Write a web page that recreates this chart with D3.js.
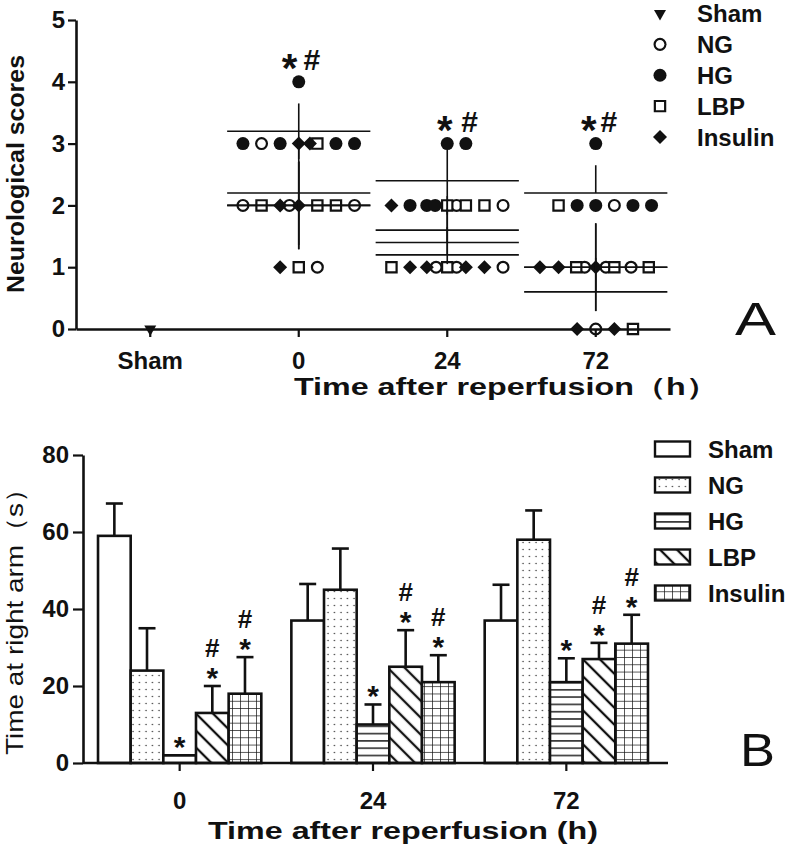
<!DOCTYPE html>
<html>
<head>
<meta charset="utf-8">
<script src="https://cdn.jsdelivr.net/npm/d3@7"></script>
<style>
  body { margin: 0; background: #fff; }
  svg { display: block; }
  text { font-family: "Liberation Sans", Arial, sans-serif; fill: #111; }
</style>
</head>
<body>
<div class="chart"></div>
<script>
// ---------- panel A data ----------
const timesA = ["Sham", "0", "24", "72"];
const legendA = ["Sham", "NG", "HG", "LBP", "Insulin"];

// [group, score, slot] ; slot = horizontal spread position inside a column
const pointsSham = [["Sham", 0, 0]];
const points0 = [
  ["NG", 3, -2], ["NG", 2, -3], ["NG", 2, -0.5], ["NG", 2, 3], ["NG", 1, 1],
  ["HG", 4, 0], ["HG", 3, -3], ["HG", 3, -1], ["HG", 3, 2], ["HG", 3, 3],
  ["LBP", 3, 1], ["LBP", 2, -2], ["LBP", 2, 1], ["LBP", 2, 2], ["LBP", 1, 0],
  ["Insulin", 3, 0], ["Insulin", 3, 0.6], ["Insulin", 2, -1], ["Insulin", 2, 0], ["Insulin", 1, -1]
];
const points24 = [
  ["NG", 2, 0.5], ["NG", 2, 3], ["NG", 1, -0.6], ["NG", 1, 0.5], ["NG", 1, 3],
  ["HG", 3, 0], ["HG", 3, 1], ["HG", 2, -2], ["HG", 2, -1.1], ["HG", 2, -0.65],
  ["LBP", 2, 0], ["LBP", 2, 1], ["LBP", 2, 2], ["LBP", 1, -3], ["LBP", 1, 0],
  ["Insulin", 2, -3], ["Insulin", 1, -2], ["Insulin", 1, -1.1], ["Insulin", 1, 1], ["Insulin", 1, 2]
];
const points72 = [
  ["NG", 2, 1], ["NG", 1, -0.6], ["NG", 1, 0.55], ["NG", 1, 1.9], ["NG", 0, 0],
  ["HG", 3, 0], ["HG", 2, -1], ["HG", 2, 0], ["HG", 2, 2], ["HG", 2, 3],
  ["LBP", 2, -2], ["LBP", 1, -1.05], ["LBP", 1, 1], ["LBP", 1, 2.85], ["LBP", 0, 2],
  ["Insulin", 1, -3], ["Insulin", 1, -2], ["Insulin", 1, 0], ["Insulin", 0, -1], ["Insulin", 0, 1]
];

// [group, mean, bar low, bar high]
const stats0 = [["NG", 2.0, 1.29, 2.71], ["HG", 3.2, 2.75, 3.65], ["LBP", 2.0, 1.29, 2.71], ["Insulin", 2.2, 1.36, 3.04]];
const stats24 = [["NG", 1.4, 1.4, 1.95], ["HG", 2.4, 1.85, 2.9], ["LBP", 1.6, 1.05, 2.15], ["Insulin", 1.2, 1.2, 1.65]];
const stats72 = [["NG", 1.0, 0.29, 1.71], ["HG", 2.2, 2.2, 2.65], ["LBP", 1.0, 0.29, 1.71], ["Insulin", 0.6, 0.6, 1.15]];

// [time, top score, slot of *, slot of #]
const annA = [["0", 4, -0.5, 0.7], ["24", 3, -0.13, 1.2], ["72", 3, -0.37, 0.7]];

// ---------- panel B data ----------
const timesB = ["0", "24", "72"];
const groupsB = ["Sham", "NG", "HG", "LBP", "Insulin"];
const meanB0 = [59, 24, 2, 13, 18];
const meanB24 = [37, 45, 10, 25, 21];
const meanB72 = [37, 58, 21, 27, 31];
const sdB0 = [8.4, 11, 0, 7, 9.5];
const sdB24 = [9.5, 10.7, 5.2, 9.5, 7];
const sdB72 = [9.3, 7.6, 6.2, 4.2, 7.5];
const sigB = ["", "", "*", "#*", "#*"];

const W = 789, H = 847;
const svg = d3.select(".chart").append("svg").attr("width", W).attr("height", H);
const defs = svg.append("defs");

// ---------- patterns ----------
const pDots = defs.append("pattern").attr("id", "p-dots")
  .attr("patternUnits", "userSpaceOnUse").attr("width", 6.5).attr("height", 7);
pDots.append("rect").attr("width", 6.5).attr("height", 7).attr("fill", "#fff");
pDots.append("circle").attr("cx", 3).attr("cy", 3.5).attr("r", 0.75).attr("fill", "#333");

const pH = defs.append("pattern").attr("id", "p-hlines")
  .attr("patternUnits", "userSpaceOnUse").attr("width", 10).attr("height", 7.3);
pH.append("rect").attr("width", 10).attr("height", 7.3).attr("fill", "#fff");
pH.append("line").attr("x1", 0).attr("x2", 10).attr("y1", 3.6).attr("y2", 3.6)
  .attr("stroke", "#111").attr("stroke-width", 1.4);

const pD = defs.append("pattern").attr("id", "p-diag")
  .attr("patternUnits", "userSpaceOnUse").attr("width", 12).attr("height", 12)
  .attr("patternTransform", "rotate(45)");
pD.append("rect").attr("width", 12).attr("height", 12).attr("fill", "#fff");
pD.append("line").attr("x1", 0).attr("x2", 12).attr("y1", 6).attr("y2", 6)
  .attr("stroke", "#111").attr("stroke-width", 2.3);

const pG = defs.append("pattern").attr("id", "p-grid")
  .attr("patternUnits", "userSpaceOnUse").attr("width", 8).attr("height", 7.3);
pG.append("rect").attr("width", 8).attr("height", 7.3).attr("fill", "#fff");
pG.append("path").attr("d", "M0,0H8M0,0V7.3").attr("stroke", "#111").attr("stroke-width", 1.4);

const fillB = { Sham: "#fff", NG: "url(#p-dots)", HG: "url(#p-hlines)", LBP: "url(#p-diag)", Insulin: "url(#p-grid)" };

// ---------- panel A ----------
const xA = d3.scaleBand().domain(timesA).range([76, 670]);
const yA = d3.scaleLinear().domain([0, 5]).range([329, 20]);
const slot = d3.scaleLinear().domain([0, 1]).range([0, 18.6]);
const cxA = t => xA(t) + xA.bandwidth() / 2;

const symA = {
  Sham:    { type: d3.symbolTriangle, size: 62, rot: 180, fill: "#111", sw: 0 },
  NG:      { type: d3.symbolCircle, size: 92, rot: 0, fill: "#fff", sw: 2.2 },
  HG:      { type: d3.symbolCircle, size: 133, rot: 0, fill: "#111", sw: 0 },
  LBP:     { type: d3.symbolSquare, size: 106, rot: 0, fill: "#fff", sw: 2.2 },
  Insulin: { type: d3.symbolSquare, size: 98, rot: 45, fill: "#111", sw: 0 }
};

function drawSymbols(sel, x, y, g) {
  sel.attr("d", d => d3.symbol(symA[g(d)].type, symA[g(d)].size)())
    .attr("transform", d => `translate(${x(d)},${y(d)}) rotate(${symA[g(d)].rot})`)
    .attr("fill", d => symA[g(d)].fill)
    .attr("stroke", "#111")
    .attr("stroke-width", d => symA[g(d)].sw);
}

const panelA = svg.append("g");
const pointSets = [["Sham", pointsSham], ["0", points0], ["24", points24], ["72", points72]];
const allPts = pointSets.flatMap(([t, pts]) => pts.map(p => ({ t, g: p[0], v: p[1], s: p[2] })));

panelA.selectAll("path.pt").data(allPts).join("path").attr("class", "pt")
  .call(drawSymbols, d => cxA(d.t) + slot(d.s), d => yA(d.v), d => d.g);

const statSets = [["0", stats0], ["24", stats24], ["72", stats72]];
const allStats = statSets.flatMap(([t, st]) => st.map(s => ({ t, g: s[0], m: s[1], lo: s[2], hi: s[3] })));

panelA.selectAll("line.mean").data(allStats).join("line").attr("class", "mean")
  .attr("x1", d => cxA(d.t) + slot(-3.85)).attr("x2", d => cxA(d.t) + slot(3.85))
  .attr("y1", d => yA(d.m)).attr("y2", d => yA(d.m))
  .attr("stroke", "#111").attr("stroke-width", 1.6);

panelA.selectAll("line.sd").data(allStats).join("line").attr("class", "sd")
  .attr("x1", d => cxA(d.t)).attr("x2", d => cxA(d.t))
  .attr("y1", d => yA(d.lo)).attr("y2", d => yA(d.hi))
  .attr("stroke", "#111").attr("stroke-width", 1.6);

// axes A
const axYA = panelA.append("g").attr("transform", "translate(76,0)")
  .call(d3.axisLeft(yA).ticks(5).tickSize(8).tickPadding(3).tickSizeOuter(0));
const axXA = panelA.append("g").attr("transform", "translate(0,329)")
  .call(d3.axisBottom(xA).tickSize(8).tickPadding(15).tickSizeOuter(0));
[axYA, axXA].forEach(ax => {
  ax.select(".domain").attr("stroke", "#111").attr("stroke-width", 2.6);
  ax.selectAll(".tick line").attr("stroke", "#111").attr("stroke-width", 2.2);
  ax.selectAll("text").attr("font-size", 24).attr("font-weight", "bold")
    .attr("font-family", "'Liberation Sans', Arial, sans-serif").attr("fill", "#111");
});

// significance marks A
annA.forEach(([t, v, s1, s2]) => {
  panelA.append("text").attr("x", cxA(t) + slot(s1)).attr("y", yA(v))
    .attr("text-anchor", "middle").attr("font-size", 40).attr("font-weight", "bold").text("*");
  panelA.append("text").attr("x", cxA(t) + slot(s2)).attr("y", yA(v) - 12)
    .attr("text-anchor", "middle").attr("font-size", 30).attr("font-weight", "bold").text("#");
});

// titles A
panelA.append("text").attr("transform", "translate(24,174) rotate(-90)")
  .attr("text-anchor", "middle").attr("font-size", 24).attr("font-weight", "bold")
  .attr("textLength", 238).attr("lengthAdjust", "spacingAndGlyphs").text("Neurological scores");
panelA.append("text").attr("x", 294).attr("y", 395)
  .attr("font-size", 24).attr("font-weight", "bold")
  .attr("textLength", 424).attr("lengthAdjust", "spacingAndGlyphs").text("Time after reperfusion（h）");
panelA.append("text").attr("x", 735).attr("y", 335).attr("font-size", 46)
  .attr("textLength", 41).attr("lengthAdjust", "spacingAndGlyphs").text("A");

// legend A
const legA = panelA.append("g");
const legYA = d3.scalePoint().domain(legendA).range([13.5, 137]);
legA.selectAll("path").data(legendA).join("path")
  .call(drawSymbols, () => 660, d => legYA(d), d => d);
legA.selectAll("text").data(legendA).join("text")
  .attr("x", 697).attr("y", d => legYA(d) + 8.5)
  .attr("font-size", 24).attr("font-weight", "bold").text(d => d);

// ---------- panel B ----------
const xB = d3.scaleBand().domain(timesB).range([83, 663]);
const xBin = d3.scaleBand().domain(groupsB).range([0, xB.bandwidth()]).paddingOuter(0.46).paddingInner(0);
const yB = d3.scaleLinear().domain([0, 80]).range([763, 455]);

const meansB = [meanB0, meanB24, meanB72];
const sdsB = [sdB0, sdB24, sdB72];
const bars = timesB.flatMap((t, i) => groupsB.map((g, j) => ({
  t, g, m: meansB[i][j], sd: sdsB[i][j], sig: sigB[j]
})));
const bx = d => xB(d.t) + xBin(d.g);

const panelB = svg.append("g");

// error bars (upper)
const eb = bars.filter(d => d.sd > 0);
panelB.selectAll("line.eb").data(eb).join("line").attr("class", "eb")
  .attr("x1", d => bx(d) + xBin.bandwidth() / 2).attr("x2", d => bx(d) + xBin.bandwidth() / 2)
  .attr("y1", d => yB(d.m)).attr("y2", d => yB(d.m + d.sd))
  .attr("stroke", "#111").attr("stroke-width", 2.6);
panelB.selectAll("line.cap").data(eb).join("line").attr("class", "cap")
  .attr("x1", d => bx(d) + xBin.bandwidth() / 2 - 8.5).attr("x2", d => bx(d) + xBin.bandwidth() / 2 + 8.5)
  .attr("y1", d => yB(d.m + d.sd)).attr("y2", d => yB(d.m + d.sd))
  .attr("stroke", "#111").attr("stroke-width", 2.6);

panelB.selectAll("rect.bar").data(bars).join("rect").attr("class", "bar")
  .attr("x", bx).attr("width", xBin.bandwidth())
  .attr("y", d => yB(d.m)).attr("height", d => yB(0) - yB(d.m))
  .attr("fill", d => fillB[d.g]).attr("stroke", "#111").attr("stroke-width", 2.6);

// significance marks B
const sigBars = bars.filter(d => d.sig);
panelB.selectAll("text.star").data(sigBars).join("text").attr("class", "star")
  .attr("x", d => bx(d) + xBin.bandwidth() / 2).attr("y", d => yB(d.m + d.sd) + 2)
  .attr("text-anchor", "middle").attr("font-size", 30).attr("font-weight", "bold").text("*");
panelB.selectAll("text.hash").data(sigBars.filter(d => d.sig.includes("#"))).join("text").attr("class", "hash")
  .attr("x", d => bx(d) + xBin.bandwidth() / 2).attr("y", d => yB(d.m + d.sd) - 29)
  .attr("text-anchor", "middle").attr("font-size", 26).attr("font-weight", "bold").text("#");

// axes B
const axYB = panelB.append("g").attr("transform", "translate(83,0)")
  .call(d3.axisLeft(yB).tickValues([0, 20, 40, 60, 80]).tickSize(10).tickPadding(4).tickSizeOuter(0));
const axXB = panelB.append("g").attr("transform", "translate(0,763)")
  .call(d3.axisBottom(xB).tickSize(8).tickPadding(21).tickSizeOuter(0));
axXB.select(".domain").attr("d", "M83,0H668");
[axYB, axXB].forEach(ax => {
  ax.select(".domain").attr("stroke", "#111").attr("stroke-width", 2.6);
  ax.selectAll(".tick line").attr("stroke", "#111").attr("stroke-width", 2.2);
  ax.selectAll("text").attr("font-size", 24).attr("font-weight", "bold")
    .attr("font-family", "'Liberation Sans', Arial, sans-serif").attr("fill", "#111");
});

// titles B
panelB.append("text").attr("transform", "translate(23,615) rotate(-90)")
  .attr("text-anchor", "middle").attr("font-size", 24)
  .attr("textLength", 280).attr("lengthAdjust", "spacingAndGlyphs").text("Time at right arm（s）");
panelB.append("text").attr("x", 208).attr("y", 839)
  .attr("font-size", 24).attr("font-weight", "bold")
  .attr("textLength", 390).attr("lengthAdjust", "spacingAndGlyphs").text("Time after reperfusion (h)");
panelB.append("text").attr("x", 740).attr("y", 766).attr("font-size", 46)
  .attr("textLength", 35).attr("lengthAdjust", "spacingAndGlyphs").text("B");

// legend B
const legYB = d3.scalePoint().domain(groupsB).range([449, 593]);
panelB.selectAll("rect.leg").data(groupsB).join("rect").attr("class", "leg")
  .attr("x", 655).attr("width", 35).attr("y", d => legYB(d) - 7.5).attr("height", 15)
  .attr("fill", d => fillB[d]).attr("stroke", "#111").attr("stroke-width", 2.4);
panelB.selectAll("text.leg").data(groupsB).join("text").attr("class", "leg")
  .attr("x", 708).attr("y", d => legYB(d) + 8.5)
  .attr("font-size", 24).attr("font-weight", "bold").text(d => d);
</script>
</body>
</html>
